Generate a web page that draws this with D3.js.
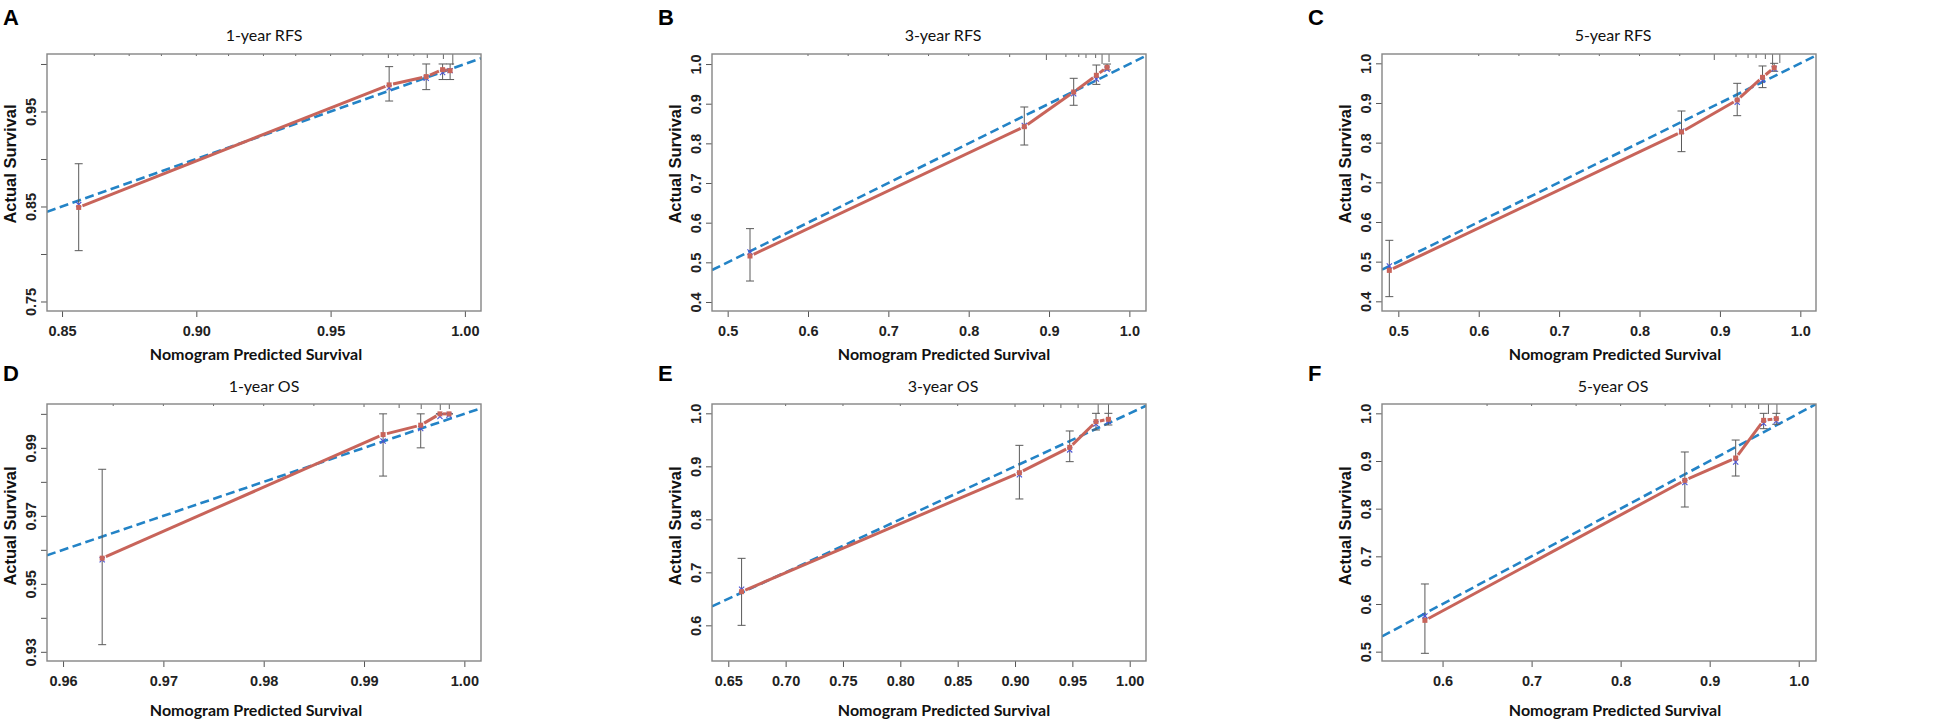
<!DOCTYPE html>
<html>
<head>
<meta charset="utf-8">
<script src="https://cdn.jsdelivr.net/npm/d3@7"></script>
<style>
  body { margin: 0; background: #fff; }
  .ejes .tick text { font-family: 'Liberation Sans', Arial, sans-serif; font-weight: bold; font-size: 14.5px; fill: #222; }
  .ejes .tick line { stroke: #555; stroke-width: 1; }
  .titulo { font-family: Lato, sans-serif; font-size: 16px; fill: #111; }
  .xlab { font-family: Lato, sans-serif; font-weight: bold; font-size: 16px; fill: #111; }
  .ylab { font-family: 'Liberation Sans', Arial, sans-serif; font-weight: bold; font-size: 16.5px; fill: #111; }
  .letra { font-family: 'Liberation Sans', Arial, sans-serif; font-weight: bold; font-size: 22px; fill: #000; }
</style>
</head>
<body>
<div id="graf"></div>
<script>
const anchoTotal = 1949
const altoTotal = 723

// datos (A..F)
const letters = ['A', 'B', 'C', 'D', 'E', 'F']
const titles = ['1-year RFS', '3-year RFS', '5-year RFS', '1-year OS', '3-year OS', '5-year OS']

const xDomains = [[0.8444, 1.006], [0.4805, 1.0207], [0.4797, 1.0195],
                  [0.9584, 1.00166], [0.6358, 1.0142], [0.532, 1.0194]]
const yDomains = [[0.740, 1.0105], [0.3773, 1.0253], [0.3756, 1.0235],
                  [0.9273, 1.0029], [0.5327, 1.0176], [0.4804, 1.0196]]

const xTicks = [
  [0.85, 0.90, 0.95, 1.00],
  [0.5, 0.6, 0.7, 0.8, 0.9, 1.0],
  [0.5, 0.6, 0.7, 0.8, 0.9, 1.0],
  [0.96, 0.97, 0.98, 0.99, 1.00],
  [0.65, 0.70, 0.75, 0.80, 0.85, 0.90, 0.95, 1.00],
  [0.6, 0.7, 0.8, 0.9, 1.0]
]
const yTicks = [
  [0.75, 0.80, 0.85, 0.90, 0.95, 1.00],
  [0.4, 0.5, 0.6, 0.7, 0.8, 0.9, 1.0],
  [0.4, 0.5, 0.6, 0.7, 0.8, 0.9, 1.0],
  [0.93, 0.94, 0.95, 0.96, 0.97, 0.98, 0.99, 1.00],
  [0.6, 0.7, 0.8, 0.9, 1.0],
  [0.5, 0.6, 0.7, 0.8, 0.9, 1.0]
]
// etiquetas visibles en el eje y (R omite las que se solapan)
const yLabels = [
  [0.75, 0.85, 0.95],
  [0.4, 0.5, 0.6, 0.7, 0.8, 0.9, 1.0],
  [0.4, 0.5, 0.6, 0.7, 0.8, 0.9, 1.0],
  [0.93, 0.95, 0.97, 0.99],
  [0.6, 0.7, 0.8, 0.9, 1.0],
  [0.5, 0.6, 0.7, 0.8, 0.9, 1.0]
]
const decimals = [2, 1, 1, 2, 2, 1]
const yDecimals = [2, 1, 1, 2, 1, 1]

const predicted = [
  [0.8562, 0.9718, 0.9856, 0.9917, 0.9945],
  [0.5278, 0.8692, 0.9307, 0.9589, 0.9722],
  [0.4888, 0.8522, 0.9215, 0.9530, 0.9675],
  [0.9639, 0.9919, 0.99565, 0.99757, 0.99847],
  [0.6616, 0.9038, 0.9477, 0.9706, 0.9814],
  [0.5802, 0.8721, 0.9292, 0.9606, 0.9748]
]
const observed = [
  [0.849, 0.978, 0.9867, 0.994, 0.993],
  [0.516, 0.842, 0.9295, 0.9716, 0.9916],
  [0.478, 0.8269, 0.9076, 0.9647, 0.989],
  [0.95755, 0.9939, 0.99667, 1.0, 1.0],
  [0.6635, 0.888, 0.9358, 0.9843, 0.9887],
  [0.5657, 0.8594, 0.9063, 0.9853, 0.9888]
]
const lower = [
  [0.8035, 0.961, 0.973, 0.9836, 0.9836],
  [0.4529, 0.7958, 0.896, 0.9487, 0.985],
  [0.4118, 0.7773, 0.868, 0.9387, 0.98],
  [0.9321, 0.9817, 0.99, 1.0, 1.0],
  [0.600, 0.8384, 0.9088, 0.9686, 0.978],
  [0.4965, 0.8035, 0.8685, 0.9678, 0.977]
]
const upper = [
  [0.895, 0.9972, 1.0, 1.0, 1.0],
  [0.585, 0.8917, 0.964, 0.9975, 1.0],
  [0.5538, 0.8798, 0.9496, 0.9933, 1.0],
  [0.9837, 1.0, 1.0, 1.0, 1.0],
  [0.7264, 0.9396, 0.9667, 1.0, 1.0],
  [0.642, 0.9189, 0.944, 1.0, 1.0]
]
// estimaciones corregidas (cruces azules)
const corrected = [
  [0.852, 0.975, 0.985, 0.991, 0.993],
  [0.526, 0.845, 0.925, 0.962, 0.987],
  [0.489, 0.829, 0.9017, 0.957, 0.986],
  [0.9571, 0.992, 0.9957, 0.9992, 0.9996],
  [0.668, 0.884, 0.931, 0.98, 0.985],
  [0.575, 0.855, 0.898, 0.979, 0.984]
]
// distribucion de predicciones (marcas arriba)
const rugValues = [
  [0.862, 0.875, 0.887, 0.90, 0.912, 0.925, 0.937, 0.95, 0.962, 0.9715, 0.975, 0.981, 0.986, 0.992, 0.9955],
  [0.60, 0.65, 0.70, 0.75, 0.80, 0.851, 0.8967, 0.921, 0.937, 0.946, 0.958, 0.966, 0.9747],
  [0.60, 0.65, 0.70, 0.75, 0.80, 0.85, 0.893, 0.92, 0.935, 0.945, 0.9565, 0.9655, 0.9745],
  [0.965, 0.97, 0.975, 0.98, 0.985, 0.99, 0.9935, 0.9957, 0.9976, 0.9985],
  [0.70, 0.75, 0.80, 0.85, 0.90, 0.925, 0.94, 0.955, 0.9725, 0.9815],
  [0.65, 0.70, 0.75, 0.80, 0.85, 0.90, 0.925, 0.94, 0.955, 0.966, 0.9755]
]
const rugCounts = [
  [1, 1, 1, 1, 1, 1, 1, 1, 1, 3, 1, 1, 3, 4, 10],
  [1, 1, 1, 1, 1, 2, 5, 2, 2, 3, 3, 9, 7],
  [1, 1, 1, 1, 1, 1, 5, 2, 3, 3, 4, 10, 8],
  [1, 1, 1, 1, 1, 2, 3, 4, 5, 4],
  [1, 1, 1, 1, 2, 2, 3, 3, 9, 8],
  [1, 1, 1, 1, 1, 2, 3, 3, 4, 9, 9]
]

// posiciones de cada panel
const ancho = 434
const alto = 257
const colLeft = [47, 712, 1382]
const rowTop = [54, 404]
const titleCx = [264, 943, 1613]
const titleY = [41, 392]
const xLabCx = [256, 944, 1615]
const xLabY = [360, 716]
const yLabCy = [164, 526]
const letterX = [3, 658, 1308]
const letterY = [25, 381]

const rojo = '#c8645a'
const azul = '#2383c6'

const svg = d3.select('#graf')
  .append('svg')
  .attr('width', anchoTotal)
  .attr('height', altoTotal)

const defs = svg.append('defs')

letters.forEach((letra, i) => {
  const col = i % 3
  const row = Math.floor(i / 3)
  const left = colLeft[col]
  const top = rowTop[row]

  const x = d3.scaleLinear().domain(xDomains[i]).range([left, left + ancho])
  const y = d3.scaleLinear().domain(yDomains[i]).range([top + alto, top])

  const g = svg.append('g')

  defs.append('clipPath')
    .attr('id', 'clip' + i)
    .append('rect')
    .attr('x', left).attr('y', top)
    .attr('width', ancho).attr('height', alto)

  // eje x
  const fx = d3.format('.' + decimals[i] + 'f')
  g.append('g')
    .attr('class', 'ejes')
    .attr('transform', `translate(0, ${top + alto})`)
    .call(d3.axisBottom(x).tickValues(xTicks[i]).tickSize(6).tickFormat(fx))
    .call(a => a.select('.domain').remove())
    .selectAll('text')
    .attr('y', 25)
    .attr('dy', 0)

  // eje y
  const fy = d3.format('.' + yDecimals[i] + 'f')
  g.append('g')
    .attr('class', 'ejes')
    .attr('transform', `translate(${left}, 0)`)
    .call(d3.axisLeft(y).tickValues(yTicks[i]).tickSize(6)
      .tickFormat(d => yLabels[i].some(v => Math.abs(v - d) < 1e-9) ? fy(d) : ''))
    .call(a => a.select('.domain').remove())
    .selectAll('text')
    .attr('transform', 'rotate(-90)')
    .attr('x', 0)
    .attr('y', -11)
    .attr('dy', 0)
    .attr('text-anchor', 'middle')

  // marcas de distribucion
  g.append('g')
    .selectAll('line')
    .data(rugValues[i].map((v, k) => ({ v, n: rugCounts[i][k] })))
    .enter()
    .append('line')
    .attr('x1', d => x(d.v)).attr('x2', d => x(d.v))
    .attr('y1', top).attr('y2', d => top + 1 + d.n)
    .attr('stroke', '#555')
    .attr('stroke-width', 0.9)

  const plot = g.append('g').attr('clip-path', `url(#clip${i})`)

  // linea ideal
  const dom = xDomains[i]
  plot.append('line')
    .attr('x1', x(dom[0])).attr('y1', y(dom[0]))
    .attr('x2', x(dom[1])).attr('y2', y(dom[1]))
    .attr('stroke', azul)
    .attr('stroke-width', 2.6)
    .attr('stroke-dasharray', '9,4.5')

  const pts = predicted[i].map((p, k) => ({
    p, o: observed[i][k], lo: lower[i][k], hi: upper[i][k], c: corrected[i][k]
  }))

  // barras de error
  const barras = plot.append('g').attr('stroke', '#5a5a5a').attr('stroke-width', 1)
  barras.selectAll('.err')
    .data(pts)
    .enter()
    .append('line')
    .attr('x1', d => x(d.p)).attr('x2', d => x(d.p))
    .attr('y1', d => y(d.lo)).attr('y2', d => y(d.hi))
  barras.selectAll('.capHi')
    .data(pts)
    .enter()
    .append('line')
    .attr('x1', d => x(d.p) - 4).attr('x2', d => x(d.p) + 4)
    .attr('y1', d => y(d.hi)).attr('y2', d => y(d.hi))
  barras.selectAll('.capLo')
    .data(pts)
    .enter()
    .append('line')
    .attr('x1', d => x(d.p) - 4).attr('x2', d => x(d.p) + 4)
    .attr('y1', d => y(d.lo)).attr('y2', d => y(d.lo))

  // curva observada (tipo "b": huecos alrededor de los puntos)
  const hueco = 4
  const tramos = d3.pairs(pts).map(([a, b]) => {
    const x1 = x(a.p), y1 = y(a.o), x2 = x(b.p), y2 = y(b.o)
    const len = Math.hypot(x2 - x1, y2 - y1)
    const ux = (x2 - x1) / len, uy = (y2 - y1) / len
    const gap = Math.min(hueco, len / 3)
    return { x1: x1 + ux * gap, y1: y1 + uy * gap, x2: x2 - ux * gap, y2: y2 - uy * gap }
  })
  plot.append('g')
    .selectAll('line')
    .data(tramos)
    .enter()
    .append('line')
    .attr('x1', d => d.x1).attr('y1', d => d.y1)
    .attr('x2', d => d.x2).attr('y2', d => d.y2)
    .attr('stroke', rojo)
    .attr('stroke-width', 3)

  // cruces azules
  plot.append('g')
    .selectAll('path')
    .data(pts)
    .enter()
    .append('path')
    .attr('d', d => {
      const cx = x(d.p), cy = y(d.c), s = 2.6
      return `M${cx - s},${cy - s}L${cx + s},${cy + s}M${cx - s},${cy + s}L${cx + s},${cy - s}`
    })
    .attr('stroke', '#4b55d6')
    .attr('stroke-width', 1.1)

  // puntos rojos
  plot.append('g')
    .selectAll('rect')
    .data(pts)
    .enter()
    .append('rect')
    .attr('x', d => x(d.p) - 2.5)
    .attr('y', d => y(d.o) - 2.5)
    .attr('width', 5)
    .attr('height', 5)
    .attr('fill', rojo)

  // marco
  g.append('rect')
    .attr('x', left).attr('y', top)
    .attr('width', ancho).attr('height', alto)
    .attr('fill', 'none')
    .attr('stroke', '#858585')
    .attr('stroke-width', 1.4)

  // textos
  svg.append('text')
    .attr('class', 'titulo')
    .attr('x', titleCx[col]).attr('y', titleY[row])
    .attr('text-anchor', 'middle')
    .text(titles[i])

  svg.append('text')
    .attr('class', 'xlab')
    .attr('x', xLabCx[col]).attr('y', xLabY[row])
    .attr('text-anchor', 'middle')
    .text('Nomogram Predicted Survival')

  svg.append('text')
    .attr('class', 'ylab')
    .attr('transform', `translate(${left - 31}, ${yLabCy[row]}) rotate(-90)`)
    .attr('text-anchor', 'middle')
    .text('Actual Survival')

  svg.append('text')
    .attr('class', 'letra')
    .attr('x', letterX[col]).attr('y', letterY[row])
    .text(letra)
})
</script>
</body>
</html>
